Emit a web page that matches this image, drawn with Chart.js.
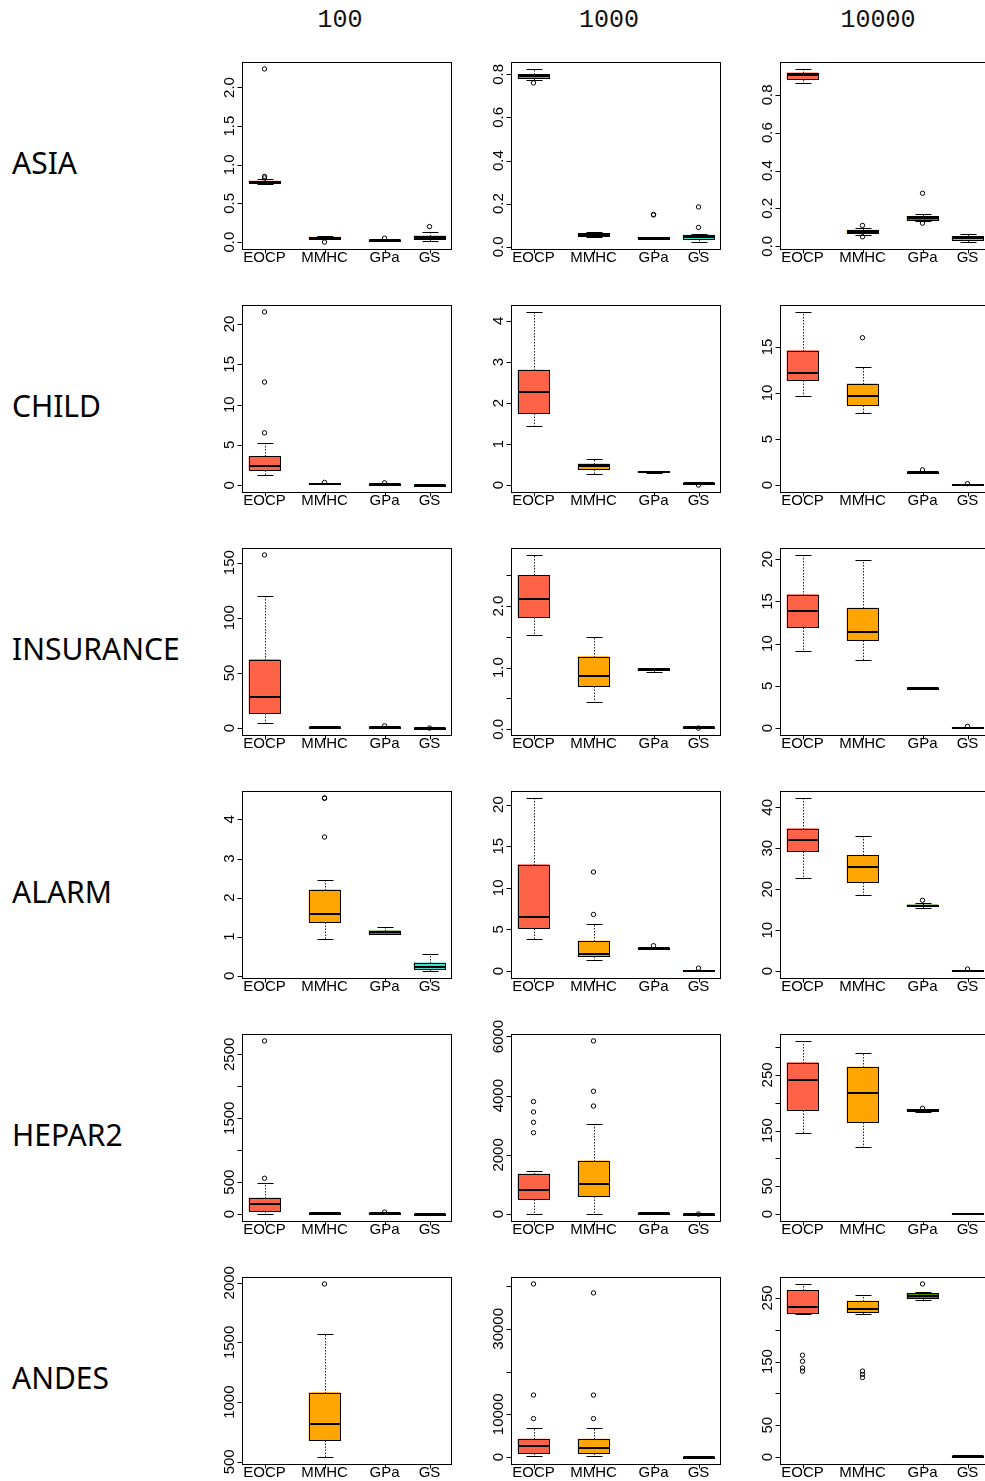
<!DOCTYPE html>
<html>
<head>
<meta charset="utf-8">
<title>Structure learning error by network and sample size</title>
<script src="https://cdn.jsdelivr.net/npm/chart.js@4.4.1/dist/chart.umd.min.js"></script>
<style>
  html, body { margin: 0; padding: 0; background: #fff; }
  body { position: relative; width: 985px; height: 1481px; overflow: hidden; }
  canvas { position: absolute; }
  .row-label { position: absolute; left: 12px; font-family: "Noto Sans", "DejaVu Sans", sans-serif; font-size: 30px; line-height: 30px; color: #000; white-space: nowrap; }
  .col-label { position: absolute; width: 200px; text-align: center; font-family: "Liberation Mono", monospace; font-size: 25px; line-height: 25px; color: #111; }
</style>
</head>
<body>
<script>
// ---------------------------------------------------------------------------
// Categories
const METHODS = ['EOCP', 'MMHC', 'GPa', 'GS'];
const NETWORKS = ['ASIA', 'CHILD', 'INSURANCE', 'ALARM', 'HEPAR2', 'ANDES'];
const SAMPLE_SIZES = ['100', '1000', '10000'];

// Five-number summaries per method (EOCP, MMHC, GPa, GS):
// [lower whisker, Q1, median, Q3, upper whisker]; null = no result for that method.
const ASIA_100 = [[0.75, 0.77, 0.78, 0.79, 0.81], [0.035, 0.045, 0.055, 0.065, 0.075], [0.015, 0.02, 0.025, 0.03, 0.035], [0.01, 0.035, 0.05, 0.08, 0.13]];
const ASIA_100_OUT = [[0.83, 0.85, 2.24], [0.0], [0.05], [0.2]];
const ASIA_1000 = [[0.775, 0.785, 0.792, 0.8, 0.825], [0.045, 0.052, 0.057, 0.063, 0.07], [0.035, 0.038, 0.041, 0.044, 0.047], [0.022, 0.035, 0.045, 0.055, 0.06]];
const ASIA_1000_OUT = [[0.76], [], [0.148, 0.15], [0.09, 0.185]];
const ASIA_10000 = [[0.863, 0.884, 0.905, 0.916, 0.937], [0.06, 0.07, 0.077, 0.085, 0.095], [0.133, 0.14, 0.15, 0.158, 0.168], [0.022, 0.035, 0.045, 0.053, 0.065]];
const ASIA_10000_OUT = [[], [0.11, 0.05], [0.28, 0.122], []];

const CHILD_100 = [[1.3, 1.9, 2.4, 3.6, 5.2], [0.1, 0.15, 0.2, 0.25, 0.3], [0.08, 0.12, 0.15, 0.2, 0.24], [0.02, 0.04, 0.05, 0.07, 0.09]];
const CHILD_100_OUT = [[6.5, 12.8, 21.5], [0.35], [0.3], []];
const CHILD_1000 = [[1.45, 1.75, 2.28, 2.8, 4.22], [0.28, 0.4, 0.47, 0.52, 0.63], [0.3, 0.31, 0.325, 0.335, 0.35], [0.03, 0.035, 0.04, 0.045, 0.05]];
const CHILD_1000_OUT = [[], [], [], [0.0]];
const CHILD_10000 = [[9.7, 11.4, 12.2, 14.6, 18.8], [7.8, 8.7, 9.7, 11.0, 12.8], [1.35, 1.38, 1.4, 1.42, 1.45], [0.0, 0.02, 0.05, 0.08, 0.1]];
const CHILD_10000_OUT = [[], [16.0], [1.65], [0.15]];

const INSURANCE_100 = [[5, 14, 28, 62, 120], [0.2, 0.5, 0.8, 1.0, 1.3], [0.5, 0.8, 1.0, 1.2, 1.5], [0.0, 0.1, 0.3, 0.5, 0.7]];
const INSURANCE_100_OUT = [[157], [], [2.0], [0.0]];
const INSURANCE_1000 = [[1.53, 1.82, 2.12, 2.5, 2.83], [0.44, 0.71, 0.86, 1.18, 1.5], [0.93, 0.96, 0.975, 0.99, 1.0], [0.03, 0.035, 0.04, 0.045, 0.05]];
const INSURANCE_1000_OUT = [[], [], [], [0.02]];
const INSURANCE_10000 = [[9.1, 12.0, 13.9, 15.8, 20.5], [8.1, 10.4, 11.4, 14.2, 19.9], [4.65, 4.7, 4.75, 4.78, 4.82], [0.0, 0.02, 0.05, 0.08, 0.1]];
const INSURANCE_10000_OUT = [[], [], [], [0.2]];

const ALARM_100 = [null, [0.95, 1.37, 1.57, 2.2, 2.45], [1.06, 1.08, 1.12, 1.15, 1.24], [0.12, 0.18, 0.23, 0.33, 0.55]];
const ALARM_100_OUT = [[], [3.55, 4.54, 4.55], [], []];
const ALARM_1000 = [[3.8, 5.2, 6.5, 12.8, 20.8], [1.3, 1.8, 2.1, 3.6, 5.6], [2.7, 2.72, 2.75, 2.78, 2.8], [0.0, 0.02, 0.05, 0.08, 0.1]];
const ALARM_1000_OUT = [[], [6.8, 11.9], [3.05], [0.35]];
const ALARM_10000 = [[22.7, 29.3, 32.0, 34.8, 42.3], [18.6, 21.8, 25.5, 28.3, 32.9], [15.5, 15.8, 16.0, 16.2, 16.6], [0.0, 0.05, 0.1, 0.15, 0.2]];
const ALARM_10000_OUT = [[], [], [17.3], [0.5]];

const HEPAR2_100 = [[0, 50, 150, 250, 480], [2, 5, 10, 15, 25], [3, 8, 12, 18, 22], [0, 1, 2, 4, 6]];
const HEPAR2_100_OUT = [[560, 2710], [], [30], []];
const HEPAR2_1000 = [[0, 500, 800, 1350, 1450], [0, 600, 1000, 1800, 3050], [5, 15, 20, 25, 35], [0, 2, 4, 6, 8]];
const HEPAR2_1000_OUT = [[2750, 3100, 3450, 3800], [3650, 4150, 5850], [], [0]];
const HEPAR2_10000 = [[145, 187, 241, 272, 311], [120, 165, 217, 264, 290], [184, 186, 187, 188, 189], [0, 0.5, 1, 1.5, 2]];
const HEPAR2_10000_OUT = [[], [], [190], []];

const ANDES_100 = [null, [540, 680, 820, 1080, 1570], null, null];
const ANDES_100_OUT = [[], [1990], [], []];
const ANDES_1000 = [[300, 1000, 2500, 4200, 6800], [300, 1000, 2200, 4200, 6700], null, [0, 20, 50, 80, 100]];
const ANDES_1000_OUT = [[9000, 14500, 40500], [9000, 14500, 38400], [], []];
const ANDES_10000 = [[224, 227, 236, 262, 272], [224, 228, 233, 245, 255], [247, 250, 253, 257, 260], [0, 0.5, 1, 1.5, 2]];
const ANDES_10000_OUT = [[160, 150.5, 140, 135], [135, 130, 125], [272], []];

// Y-axis ticks and their labels ('' = tick without label)
const ASIA_100_TICKS = [0, 0.5, 1, 1.5, 2];
const ASIA_100_LABELS = ['0.0', '0.5', '1.0', '1.5', '2.0'];
const ASIA_1000_TICKS = [0, 0.2, 0.4, 0.6, 0.8];
const ASIA_1000_LABELS = ['0.0', '0.2', '0.4', '0.6', '0.8'];
const ASIA_10000_TICKS = [0, 0.2, 0.4, 0.6, 0.8];
const ASIA_10000_LABELS = ['0.0', '0.2', '0.4', '0.6', '0.8'];
const CHILD_100_TICKS = [0, 5, 10, 15, 20];
const CHILD_100_LABELS = ['0', '5', '10', '15', '20'];
const CHILD_1000_TICKS = [0, 1, 2, 3, 4];
const CHILD_1000_LABELS = ['0', '1', '2', '3', '4'];
const CHILD_10000_TICKS = [0, 5, 10, 15];
const CHILD_10000_LABELS = ['0', '5', '10', '15'];
const INSURANCE_100_TICKS = [0, 50, 100, 150];
const INSURANCE_100_LABELS = ['0', '50', '100', '150'];
const INSURANCE_1000_TICKS = [0, 0.5, 1, 1.5, 2, 2.5];
const INSURANCE_1000_LABELS = ['0.0', '', '1.0', '', '2.0', ''];
const INSURANCE_10000_TICKS = [0, 5, 10, 15, 20];
const INSURANCE_10000_LABELS = ['0', '5', '10', '15', '20'];
const ALARM_100_TICKS = [0, 1, 2, 3, 4];
const ALARM_100_LABELS = ['0', '1', '2', '3', '4'];
const ALARM_1000_TICKS = [0, 5, 10, 15, 20];
const ALARM_1000_LABELS = ['0', '5', '10', '15', '20'];
const ALARM_10000_TICKS = [0, 10, 20, 30, 40];
const ALARM_10000_LABELS = ['0', '10', '20', '30', '40'];
const HEPAR2_100_TICKS = [0, 500, 1000, 1500, 2000, 2500];
const HEPAR2_100_LABELS = ['0', '500', '', '1500', '', '2500'];
const HEPAR2_1000_TICKS = [0, 2000, 4000, 6000];
const HEPAR2_1000_LABELS = ['0', '2000', '4000', '6000'];
const HEPAR2_10000_TICKS = [0, 50, 100, 150, 200, 250, 300];
const HEPAR2_10000_LABELS = ['0', '50', '', '150', '', '250', ''];
const ANDES_100_TICKS = [500, 1000, 1500, 2000];
const ANDES_100_LABELS = ['500', '1000', '1500', '2000'];
const ANDES_1000_TICKS = [0, 10000, 20000, 30000, 40000];
const ANDES_1000_LABELS = ['0', '10000', '', '30000', ''];
const ANDES_10000_TICKS = [0, 50, 100, 150, 200, 250];
const ANDES_10000_LABELS = ['0', '50', '', '150', '', '250'];

// Grid of panels: one row per network, one column per sample size
const PANELS = [
  [[ASIA_100, ASIA_100_OUT, ASIA_100_TICKS, ASIA_100_LABELS], [ASIA_1000, ASIA_1000_OUT, ASIA_1000_TICKS, ASIA_1000_LABELS], [ASIA_10000, ASIA_10000_OUT, ASIA_10000_TICKS, ASIA_10000_LABELS]],
  [[CHILD_100, CHILD_100_OUT, CHILD_100_TICKS, CHILD_100_LABELS], [CHILD_1000, CHILD_1000_OUT, CHILD_1000_TICKS, CHILD_1000_LABELS], [CHILD_10000, CHILD_10000_OUT, CHILD_10000_TICKS, CHILD_10000_LABELS]],
  [[INSURANCE_100, INSURANCE_100_OUT, INSURANCE_100_TICKS, INSURANCE_100_LABELS], [INSURANCE_1000, INSURANCE_1000_OUT, INSURANCE_1000_TICKS, INSURANCE_1000_LABELS], [INSURANCE_10000, INSURANCE_10000_OUT, INSURANCE_10000_TICKS, INSURANCE_10000_LABELS]],
  [[ALARM_100, ALARM_100_OUT, ALARM_100_TICKS, ALARM_100_LABELS], [ALARM_1000, ALARM_1000_OUT, ALARM_1000_TICKS, ALARM_1000_LABELS], [ALARM_10000, ALARM_10000_OUT, ALARM_10000_TICKS, ALARM_10000_LABELS]],
  [[HEPAR2_100, HEPAR2_100_OUT, HEPAR2_100_TICKS, HEPAR2_100_LABELS], [HEPAR2_1000, HEPAR2_1000_OUT, HEPAR2_1000_TICKS, HEPAR2_1000_LABELS], [HEPAR2_10000, HEPAR2_10000_OUT, HEPAR2_10000_TICKS, HEPAR2_10000_LABELS]],
  [[ANDES_100, ANDES_100_OUT, ANDES_100_TICKS, ANDES_100_LABELS], [ANDES_1000, ANDES_1000_OUT, ANDES_1000_TICKS, ANDES_1000_LABELS], [ANDES_10000, ANDES_10000_OUT, ANDES_10000_TICKS, ANDES_10000_LABELS]]
];

// ---------------------------------------------------------------------------
// Layout and style
const COLORS = ['#FF6347', '#FFA500', '#458B00', '#40E0D0'];
const SLOT = [1, 2, 3, 3.75];          // x position of each method's box
const X_RANGE = [0.625, 4.108];
const COL_LEFT = [242, 511, 780];
const ROW_TOP = [62, 305, 548, 791, 1034, 1277];
const FRAME_W = 209, FRAME_H = 187;
const PAD = { left: 50, top: 24, right: 8, bottom: 26 };
const BOX_W = 31, CAP_HALF = 8;
const AXIS_FONT = '15px "Liberation Sans", Arial, sans-serif';

// Whiskers, caps, box outlines, medians, frame and axes drawn with the chart's scales
const boxplotPlugin = {
  id: 'rbox',
  afterDatasetsDraw(chart, args, opts) {
    const { ctx, scales: { x, y } } = chart;
    const r = v => Math.round(v) + 0.5;
    ctx.save();
    ctx.strokeStyle = '#000';
    opts.summary.forEach((s, i) => {
      if (!s) return;
      const [lo, q1, med, q3, hi] = s;
      const cx = r(x.getPixelForValue(SLOT[i]));
      const yLo = r(y.getPixelForValue(lo)), yQ1 = r(y.getPixelForValue(q1));
      const yMed = y.getPixelForValue(med), yQ3 = r(y.getPixelForValue(q3));
      const yHi = r(y.getPixelForValue(hi));
      // dashed whiskers
      ctx.lineWidth = 1;
      ctx.setLineDash([1.5, 1.5]);
      ctx.strokeStyle = '#222';
      ctx.beginPath();
      if (yHi < yQ3) { ctx.moveTo(cx, yQ3); ctx.lineTo(cx, yHi); }
      if (yLo > yQ1) { ctx.moveTo(cx, yQ1); ctx.lineTo(cx, yLo); }
      ctx.stroke();
      ctx.setLineDash([]);
      ctx.strokeStyle = '#000';
      // staples
      ctx.beginPath();
      ctx.moveTo(cx - CAP_HALF, yHi); ctx.lineTo(cx + CAP_HALF, yHi);
      ctx.moveTo(cx - CAP_HALF, yLo); ctx.lineTo(cx + CAP_HALF, yLo);
      ctx.stroke();
      // box outline
      const left = r(x.getPixelForValue(SLOT[i]) - BOX_W / 2);
      ctx.strokeRect(left, yQ3, BOX_W, Math.max(yQ1 - yQ3, 1));
      // median
      ctx.lineWidth = 2;
      ctx.beginPath();
      ctx.moveTo(left, Math.round(yMed)); ctx.lineTo(left + BOX_W, Math.round(yMed));
      ctx.stroke();
    });
    ctx.restore();
  },
  afterDraw(chart, args, opts) {
    const { ctx, chartArea: a, scales: { x, y } } = chart;
    const r = v => Math.round(v) + 0.5;
    ctx.save();
    ctx.strokeStyle = '#000';
    ctx.lineWidth = 1;
    ctx.strokeRect(r(a.left), r(a.top), Math.round(a.right - a.left), Math.round(a.bottom - a.top));
    ctx.fillStyle = '#000';
    ctx.font = AXIS_FONT;
    // y axis ticks, labels rotated to read upwards
    opts.ticks.forEach((t, k) => {
      const yy = r(y.getPixelForValue(t));
      ctx.beginPath();
      ctx.moveTo(r(a.left) - 5, yy); ctx.lineTo(r(a.left), yy);
      ctx.stroke();
      const lab = opts.labels[k];
      if (!lab) return;
      ctx.save();
      ctx.translate(a.left - 8, y.getPixelForValue(t));
      ctx.rotate(-Math.PI / 2);
      ctx.textAlign = 'center';
      ctx.textBaseline = 'alphabetic';
      ctx.fillText(lab, 0, 0);
      ctx.restore();
    });
    // x axis ticks and method names
    ctx.textAlign = 'center';
    ctx.textBaseline = 'alphabetic';
    METHODS.forEach((m, i) => {
      const cx = r(x.getPixelForValue(SLOT[i]));
      ctx.beginPath();
      ctx.moveTo(cx, r(a.bottom)); ctx.lineTo(cx, r(a.bottom) + 4);
      ctx.stroke();
      ctx.fillText(m, x.getPixelForValue(SLOT[i]), a.bottom + 13);
    });
    ctx.restore();
  }
};

function yLimits(summary, outliers) {
  const vals = [];
  summary.forEach((s, i) => { if (s) { vals.push(...s, ...outliers[i]); } });
  const lo = Math.min(...vals), hi = Math.max(...vals);
  const pad = (hi - lo) * 0.04;
  return [lo - pad, hi + pad];
}

function makePanel(row, col) {
  const [summary, outliers, ticks, labels] = PANELS[row][col];
  const canvas = document.createElement('canvas');
  const w = PAD.left + FRAME_W + PAD.right, h = PAD.top + FRAME_H + PAD.bottom;
  canvas.width = w; canvas.height = h;
  canvas.style.width = w + 'px'; canvas.style.height = h + 'px';
  canvas.style.left = (COL_LEFT[col] - PAD.left) + 'px';
  canvas.style.top = (ROW_TOP[row] - PAD.top) + 'px';
  document.body.appendChild(canvas);

  const boxes = [], boxColors = [], points = [];
  summary.forEach((s, i) => {
    if (!s) return;
    boxes.push({ x: SLOT[i], y: [s[1], s[3]] });
    boxColors.push(COLORS[i]);
    outliers[i].forEach(v => points.push({ x: SLOT[i], y: v }));
  });
  const [yMin, yMax] = yLimits(summary, outliers);

  new Chart(canvas, {
    type: 'bar',
    data: {
      datasets: [
        { type: 'bar', data: boxes, backgroundColor: boxColors, borderWidth: 0, barThickness: BOX_W, order: 2 },
        { type: 'scatter', data: points, pointStyle: 'circle', pointRadius: 2.2, borderWidth: 1,
          borderColor: '#000', backgroundColor: 'rgba(0,0,0,0)', order: 1 }
      ]
    },
    options: {
      responsive: false,
      animation: false,
      devicePixelRatio: 1,
      events: [],
      layout: { padding: PAD },
      scales: {
        x: { type: 'linear', min: X_RANGE[0], max: X_RANGE[1], offset: false, display: false },
        y: { type: 'linear', min: yMin, max: yMax, beginAtZero: false, bounds: 'data', display: false }
      },
      plugins: {
        legend: { display: false },
        tooltip: { enabled: false },
        rbox: { summary, ticks, labels }
      }
    },
    plugins: [boxplotPlugin]
  });
}

// Column headers and row names
const COL_CENTER = [340, 609, 878];
SAMPLE_SIZES.forEach((s, c) => {
  const d = document.createElement('div');
  d.className = 'col-label';
  d.textContent = s;
  d.style.left = (COL_CENTER[c] - 100) + 'px';
  d.style.top = '8px';
  document.body.appendChild(d);
});
NETWORKS.forEach((n, r) => {
  const d = document.createElement('div');
  d.className = 'row-label';
  d.textContent = n;
  d.style.top = (ROW_TOP[r] + 86) + 'px';
  document.body.appendChild(d);
});

for (let r = 0; r < NETWORKS.length; r++) {
  for (let c = 0; c < SAMPLE_SIZES.length; c++) makePanel(r, c);
}
</script>
</body>
</html>
